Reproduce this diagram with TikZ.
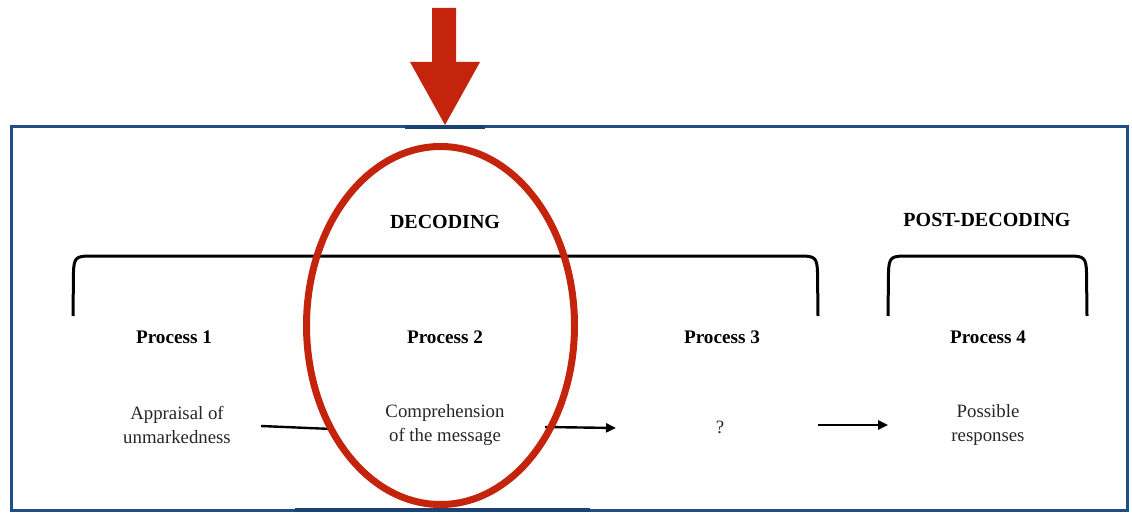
\documentclass[tikz,border=0pt]{standalone}
\usepackage{fontspec}
\setmainfont{Liberation Serif}
\usetikzlibrary{arrows.meta,shapes.geometric}
\definecolor{frameblue}{RGB}{31,78,135}
\definecolor{markred}{RGB}{196,36,12}
\begin{document}
\begin{tikzpicture}[x=1pt,y=-1pt,
  headtext/.style={font=\fontsize{20}{22}\selectfont\bfseries},
  proctext/.style={font=\fontsize{19.2}{22}\selectfont\bfseries},
  desctext/.style={font=\fontsize{18.8}{23.5}\selectfont, align=center, text=black!85},
  bracketline/.style={line width=3pt, line cap=butt, line join=round},
  flow/.style={line width=2.4pt, -{Triangle[length=10pt,width=9pt]}},
  plainflow/.style={line width=2.4pt},
]
\useasboundingbox (0,0) rectangle (1132,513);

% outer frame
\draw[frameblue, line width=3pt] (11,127) rectangle (1127,510);
\draw[frameblue!85!black, line width=3.6pt] (405,127) -- (485,127);
\draw[frameblue!85!black, line width=3.6pt] (295,510) -- (590,510);

% pointer arrow from above
\fill[markred] (432,8) -- (456,8) -- (456,62) -- (480,62) -- (445,125)
  -- (410,62) -- (432,62) -- cycle;

% phase headings
\node[headtext] (dec) at (445,222) {DECODING};
\node[headtext] (post) at (987,220) {POST-DECODING};

% brackets spanning the phases
\draw[bracketline] (73,316) -- (73.5,272) .. controls (74,258) and (76,256) .. (90,256)
  -- (801,256) .. controls (815,256) and (817,258) .. (817.5,272) -- (818,316);
\draw[bracketline] (888,316) -- (888.5,272) .. controls (889,258) and (891,256) .. (905,256)
  -- (1070,256) .. controls (1084,256) and (1086,258) .. (1086.5,272) -- (1087,316);

% process labels
\node[proctext] (p1) at (174,337) {Process 1};
\node[proctext] (p2) at (445,337) {Process 2};
\node[proctext] (p3) at (722,337) {Process 3};
\node[proctext] (p4) at (988,337) {Process 4};

% process contents
\node[desctext] (d1) at (177,425) {Appraisal of\\unmarkedness};
\node[desctext] (d2) at (445,425) {Comprehension\\of the message};
\node[desctext] (d3) at (720,427) {?};
\node[desctext] (d4) at (988,425) {Possible\\responses};

% connector end points
\coordinate (a1s) at (261,426);
\coordinate (a1e) at (332,429);
\coordinate (a2s) at (545,427);
\coordinate (a2e) at (616,428);
\coordinate (a3s) at (818,425);
\coordinate (a3e) at (888,425);

\draw[plainflow] (a1s) -- (a1e);
\draw[flow] (a2s) -- (a2e);
\draw[flow] (a3s) -- (a3e);

% highlight ring around the second process
\node[ellipse, draw=markred, line width=7pt, minimum width=268pt,
  minimum height=358pt, inner sep=0pt] (focus) at (440.5,325.5) {};
\end{tikzpicture}
\end{document}
